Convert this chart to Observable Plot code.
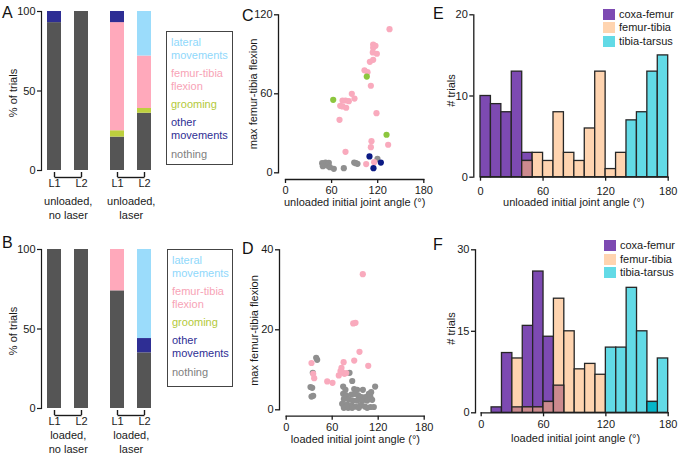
<!DOCTYPE html>
<html><head><meta charset="utf-8">
<script src="https://cdn.jsdelivr.net/npm/d3@7"></script>
<script src="https://cdn.jsdelivr.net/npm/@observablehq/plot@0.6"></script>
<style>
body{margin:0;background:#fff;}
#fig{position:relative;width:678px;height:461px;font-family:"Liberation Sans",Arial,Helvetica,sans-serif;color:#1a1a1a;overflow:hidden;background:#fff}
.panel{position:absolute}
.panel svg{overflow:visible}
.letter{position:absolute;font-size:16px;line-height:16px;color:#111}
.legbox{position:absolute;border:1px solid #444;box-sizing:border-box;font-size:11px;line-height:13px;padding-left:4px}
.legbox div{margin-bottom:5.3px;white-space:pre}
.hleg{position:absolute;font-size:11px;line-height:13.5px}
.hleg .row{display:flex;align-items:center;height:13.5px}
.hleg .sw{width:12px;height:11px;margin-right:4px}
</style>
</head><body>
<div id="fig"></div>
<script>
const FONT = '"Liberation Sans", Arial, Helvetica, sans-serif';
const style = {fontFamily: FONT, fontSize: "11px", color: "#1a1a1a", background: "transparent", overflow: "visible"};

// ---------- Panels A / B : stacked % of trials ----------
const lanes = ["L1", "L2"];
const behaviors = ["nothing", "grooming", "femur-tibia flexion", "other movements", "lateral movements"];
const behaviorColors = ["#555555", "#bdd03e", "#ffa9bb", "#2e2e94", "#9bdcfb"];
const pctTicks = [0, 50, 100];
// values follow the order of `behaviors`
const unloadedNoLaserL1 = [93, 0, 0, 7, 0];
const unloadedNoLaserL2 = [100, 0, 0, 0, 0];
const unloadedLaserL1 = [21, 4, 68, 7, 0];
const unloadedLaserL2 = [36, 3, 33, 0, 28];
const loadedNoLaserL1 = [100, 0, 0, 0, 0];
const loadedNoLaserL2 = [100, 0, 0, 0, 0];
const loadedLaserL1 = [74, 0, 26, 0, 0];
const loadedLaserL2 = [35, 0, 0, 9, 56];
const groupLabels = ["unloaded,\nno laser", "unloaded,\nlaser", "loaded,\nno laser", "loaded,\nlaser"];
const legendItems = ["lateral\nmovements", "femur-tibia\nflexion", "grooming", "other\nmovements", "nothing"];
const legendColors = ["#8fd8fb", "#f7a3b6", "#b3c93a", "#2e2e94", "#808080"];

// ---------- Panels C / D : scatter ----------
const angleTicks = [0, 60, 120, 180];
const cFlexion = [[135.4,109.1],[114.1,97.4],[117.1,96.4],[114.1,94.9],[113.6,91.4],[118.9,90.4],[114.1,85.8],[109.8,84.3],[102.8,77.9],[106.7,76.4],[111.1,66.1],[86.3,60.0],[89.8,56.4],[74.2,54.9],[78.1,54.9],[82.4,54.4],[71.2,50.9],[74.2,50.4],[79.0,49.4],[118.4,45.3],[70.3,40.2],[111.9,24.0],[111.1,19.5],[133.6,21.3],[78.1,15.9],[115.4,8.1],[105.0,6.6]];
const cGrooming = [[105.8,73.1],[62.1,55.4],[131.5,28.9]];
const cOther = [[109.3,12.4],[124.1,7.8],[114.5,3.5]];
const cNothing = [[47.7,7.3],[52.1,7.8],[56.4,7.6],[48.6,5.0],[54.3,5.5],[57.7,4.3],[62.9,3.0],[75.9,3.5],[89.4,7.8],[91.5,7.3],[93.7,6.8],[119.7,10.6]];
const cYTicks = [0, 60, 120];
const dFlexion = [[99.9,33.9],[87.4,21.6],[90.4,21.75],[95.6,14.5],[88.7,12.3],[74.9,11.9],[107.0,11.0],[33.0,11.7],[35.2,9.0],[36.5,7.9],[72.1,10.5],[73.0,9.4],[68.6,8.6],[76.0,9.0],[78.3,9.2],[70.8,9.7],[53.5,7.1],[60.4,6.75]];
const dNothing = [[39.1,13.0],[40.4,12.5],[34.7,9.25],[82.6,9.25],[86.1,7.2],[31.7,5.7],[33.9,5.5],[33.0,3.3],[35.2,3.5],
  [74.3,5.8],[77.3,5.0],[88.7,5.2],[92.6,5.0],[100.0,5.0],[116.0,5.8],[110.8,4.4],[107.8,4.0],[74.3,4.0],[78.2,3.6],[85.2,3.8],[89.5,4.0],[93.9,3.6],[98.2,3.2],[103.4,3.2],[109.9,3.2],
  [75.2,2.7],[81.7,2.6],[86.9,2.3],[92.6,2.3],[99.1,2.2],[105.6,2.3],[112.1,2.5],[73.0,1.5],[79.5,1.3],[85.2,1.1],[90.4,0.8],[96.9,1.1],[102.6,0.8],[109.9,0.7],[114.3,0.7],
  [75.2,0.5],[80.8,0.5],[86.0,0.5],[94.7,0.5],[105.6,0.5]];
const dYTicks = [0, 20, 40];

// ---------- Panels E / F : histograms, [bin start (deg), # trials] ----------
const BIN = 10;
const eCoxaFemur = [[0,10],[10,9],[20,8],[30,13],[40,3]];
const eFemurTibia = [[40,2],[50,3],[60,2],[70,8],[80,3],[90,2],[100,6],[110,13],[120,1],[130,3]];
const eTibiaTarsus = [[140,7],[150,8],[160,13],[170,15]];
const eYTicks = [0, 10, 20];
const fCoxaFemur = [[10,1],[20,11],[30,1],[40,16],[50,26],[60,14],[70,5]];
const fFemurTibia = [[30,10],[40,1],[50,1],[60,2],[70,21],[80,15],[90,8],[100,9],[110,7]];
const fTibiaTarsus = [[120,12],[130,12],[140,23],[150,15],[160,2],[170,10]];
const fTibiaTarsusDouble = [[160,2]];
const fYTicks = [0, 15, 30];
const jointNames = ["coxa-femur", "femur-tibia", "tibia-tarsus"];
const jointColors = ["#7d4ab2", "#ffd4b0", "#62dae6"];
const OVERLAP = "#cc8a8e", DARKTEAL = "#05b6c9", EDGE = "#262626";

const PINK = "#f9aabd", GREEN = "#8cc63e", NAVY = "#0b1a84", GRAY = "#8f8f8f";

const fig = document.getElementById("fig");
function mount(node, left, top) {
  const d = document.createElement("div");
  d.className = "panel"; d.style.left = left + "px"; d.style.top = top + "px";
  d.appendChild(node); fig.appendChild(d);
}
function addDiv(cls, html, css) {
  const d = document.createElement("div"); d.className = cls; d.innerHTML = html;
  Object.assign(d.style, css); fig.appendChild(d); return d;
}

function rows(l1, l2) {
  return [l1, l2].flatMap((vals, i) => vals.map((v, j) => ({lane: lanes[i], behavior: behaviors[j], pct: v}))).filter(d => d.pct > 0);
}

function barGroup({data, width, marginLeft, marginRight, insetLeft, showY, label, labelDx, labelDy}) {
  return Plot.plot({
    width, height: 225, marginTop: 11, marginBottom: 53, marginLeft, marginRight,
    style,
    x: {domain: lanes, paddingInner: 0.49, paddingOuter: 0.1, insetLeft, label: null},
    y: {domain: [0, 100], insetBottom: 2, label: null, axis: showY ? undefined : null},
    color: {domain: behaviors, range: behaviorColors},
    marks: [
      showY ? Plot.frame({anchor: "left", insetBottom: 2, strokeWidth: 1.2}) : null,
      showY ? Plot.axisY({ticks: pctTicks, tickSize: 4, tickPadding: 2, label: null, strokeWidth: 1.2}) : null,
      Plot.barY(data, {x: "lane", y: "pct", fill: "behavior"}),
      Plot.axisX({tickSize: 5, tickPadding: 2, label: null, strokeWidth: 1.4}),
      Plot.link([lanes], {x1: d => d[0], x2: d => d[1], y1: () => 0, y2: () => 0, dy: 7, strokeWidth: 1.4}),
      showY ? Plot.text(["% of trials"], {frameAnchor: "left", textAnchor: "middle", lineAnchor: "middle", rotate: -90, dx: -28, dy: 1, fontSize: 11}) : null,
      Plot.text([label], {frameAnchor: "bottom", lineAnchor: "top", dx: labelDx, dy: labelDy, lineHeight: 1.3, fontSize: 11})
    ]
  });
}

function legendBox(left, top, w, h) {
  const html = legendItems.map((t, i) => `<div style="color:${legendColors[i]}">${t}</div>`).join("");
  addDiv("legbox", html, {left: left + "px", top: top + "px", width: w + "px", height: h + "px", paddingTop: "3.5px"});
}

// A
mount(barGroup({data: rows(unloadedNoLaserL1, unloadedNoLaserL2), width: 100, marginLeft: 41, marginRight: 8.75, insetLeft: 3.25, showY: true, label: groupLabels[0], labelDx: 1.6, labelDy: 22}), 0, 0);
mount(barGroup({data: rows(unloadedLaserL1, unloadedLaserL2), width: 62, marginLeft: 7.25, marginRight: 7.75, insetLeft: 0, showY: false, label: groupLabels[1], labelDx: 0, labelDy: 22}), 100, 0);
legendBox(166, 31, 67, 134);
// B
mount(barGroup({data: rows(loadedNoLaserL1, loadedNoLaserL2), width: 100, marginLeft: 41, marginRight: 8.75, insetLeft: 3.25, showY: true, label: groupLabels[2], labelDx: 1.6, labelDy: 18}), 0, 238);
mount(barGroup({data: rows(loadedLaserL1, loadedLaserL2), width: 62, marginLeft: 7.25, marginRight: 7.75, insetLeft: 0, showY: false, label: groupLabels[3], labelDx: 0, labelDy: 18}), 100, 238);
legendBox(167, 249, 66, 138);

// C / D
function scatter({layers, yDomain, yTicks, marginLeft, marginRight, marginTop, marginBottom, insetLeft, insetBottom, xLabel, xdx, xdy, ydx, ydy}) {
  return Plot.plot({
    width: 200, height: 225, marginLeft, marginRight, marginTop, marginBottom,
    style,
    x: {domain: [0, 180], insetLeft, label: null},
    y: {domain: yDomain, insetBottom, label: null},
    marks: [
      Plot.frame({anchor: "left", insetBottom, strokeWidth: 1.3}),
      Plot.frame({anchor: "bottom", insetLeft, strokeWidth: 1.3}),
      Plot.axisX({ticks: angleTicks, tickSize: 4, tickPadding: 3, label: null, strokeWidth: 1.3}),
      Plot.axisY({ticks: yTicks, tickSize: 4, tickPadding: 2, label: null, strokeWidth: 1.3}),
      ...layers.map(([pts, color]) => Plot.dot(pts, {x: d => d[0], y: d => d[1], fill: color, r: 3.1})),
      Plot.text([xLabel], {frameAnchor: "bottom", lineAnchor: "top", dx: xdx, dy: xdy, fontSize: 11}),
      Plot.text(["max femur-tibia flexion"], {frameAnchor: "left", textAnchor: "middle", lineAnchor: "middle", rotate: -90, dx: ydx, dy: ydy, fontSize: 11})
    ]
  });
}
mount(scatter({layers: [[cNothing, GRAY], [cFlexion, PINK], [cGrooming, GREEN], [cOther, NAVY]], yDomain: [0, 120], yTicks: cYTicks,
  marginLeft: 38, marginRight: 16.7, marginTop: 14.3, marginBottom: 46, insetLeft: 7, insetBottom: 6.7,
  xLabel: "unloaded initial joint angle (°)", xdx: 3.5, xdy: 19, ydx: -24.7, ydy: -3.3}), 240, 0);
mount(scatter({layers: [[dNothing, GRAY], [dFlexion, PINK]], yDomain: [0, 40], yTicks: dYTicks,
  marginLeft: 39, marginRight: 16.3, marginTop: 19.3, marginBottom: 39.3, insetLeft: 6.7, insetBottom: 6.4,
  xLabel: "loaded initial joint angle (°)", xdx: 3.6, xdy: 18.5, ydx: -25.5, ydy: -2.5}), 240, 230);

// E / F
function overlap(a, b) {
  const m = new Map(b);
  return a.filter(([s]) => m.has(s)).map(([s, n]) => [s, Math.min(n, m.get(s))]);
}
function hist({cf, ft, tt, ttDouble, yMax, yTicks, marginLeft, marginTop, marginBottom, insetLeft, tickPad, xLabel, xdx, xdy, ydx, ydy}) {
  const rect = (data, fill) => Plot.rect(data, {x1: d => d[0], x2: d => d[0] + BIN, y1: 0, y2: d => d[1], fill, stroke: EDGE, strokeWidth: 1.3});
  return Plot.plot({
    width: 238, height: 225, marginLeft, marginRight: 10.3, marginTop, marginBottom,
    style,
    x: {domain: [0, 180], insetLeft, label: null},
    y: {domain: [0, yMax], label: null},
    marks: [
      rect(cf, jointColors[0]),
      rect(ft, jointColors[1]),
      rect(overlap(cf, ft), OVERLAP),
      rect(tt, jointColors[2]),
      ttDouble ? rect(ttDouble, DARKTEAL) : null,
      Plot.frame({anchor: "left", strokeWidth: 1.3}),
      Plot.frame({anchor: "bottom", insetLeft, strokeWidth: 1.3}),
      Plot.axisX({ticks: angleTicks, tickSize: 4, tickPadding: tickPad, label: null, strokeWidth: 1.3}),
      Plot.axisY({ticks: yTicks, tickSize: 4, tickPadding: 2, label: null, strokeWidth: 1.3}),
      Plot.text([xLabel], {frameAnchor: "bottom", lineAnchor: "top", dx: xdx, dy: xdy, fontSize: 11}),
      Plot.text(["# trials"], {frameAnchor: "left", textAnchor: "middle", lineAnchor: "middle", rotate: -90, dx: ydx, dy: ydy, fontSize: 11})
    ]
  });
}
mount(hist({cf: eCoxaFemur, ft: eFemurTibia, tt: eTibiaTarsus, yMax: 20, yTicks: eYTicks,
  marginLeft: 33.3, marginTop: 14.3, marginBottom: 48.3, insetLeft: 6.7, tickPad: 5.5,
  xLabel: "unloaded initial joint angle (°)", xdx: 2.8, xdy: 20.5, ydx: -22.3, ydy: -5.5}), 440, 0);
mount(hist({cf: fCoxaFemur, ft: fFemurTibia, tt: fTibiaTarsus, ttDouble: fTibiaTarsusDouble, yMax: 30, yTicks: fYTicks,
  marginLeft: 35, marginTop: 19.3, marginBottom: 42.7, insetLeft: 5.7, tickPad: 3,
  xLabel: "loaded initial joint angle (°)", xdx: 3.7, xdy: 21.5, ydx: -24.2, ydy: -2.8}), 440, 230);

function hLegend(left, top) {
  const html = jointNames.map((t, i) => `<div class="row"><div class="sw" style="background:${jointColors[i]}"></div>${t}</div>`).join("");
  addDiv("hleg", html, {left: left + "px", top: top + "px"});
}
hLegend(603, 7.5);
hLegend(604, 239);

// panel letters
[["A", 2, 5], ["B", 2, 235], ["C", 242, 8], ["D", 242, 241], ["E", 433, 6], ["F", 433, 237]].forEach(([t, l, tp]) =>
  addDiv("letter", t, {left: l + "px", top: tp + "px"}));
</script>
</body></html>
